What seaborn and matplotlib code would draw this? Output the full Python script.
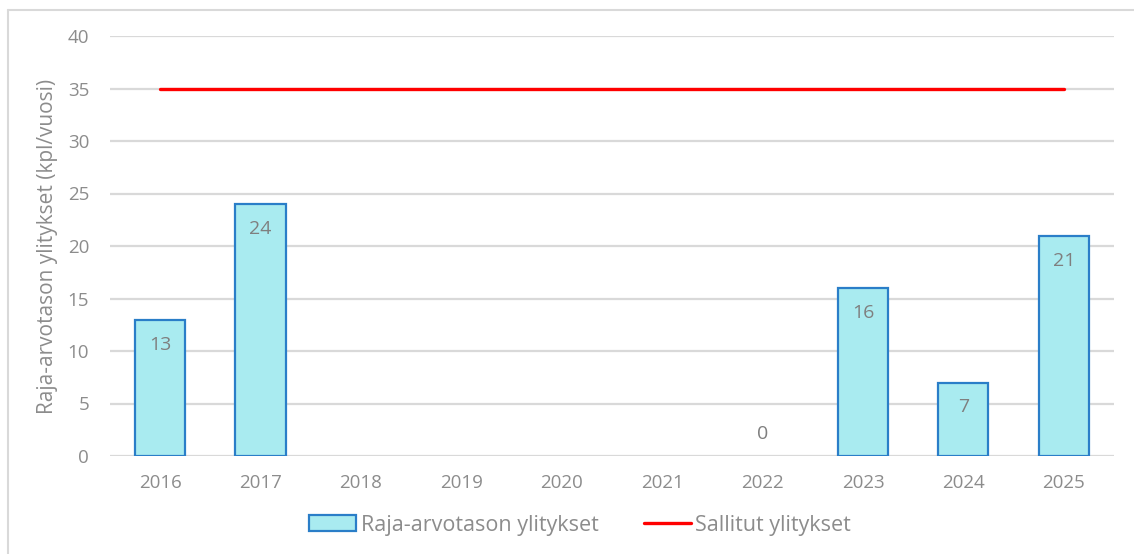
import matplotlib
matplotlib.use("Agg")
import matplotlib.pyplot as plt
from matplotlib.lines import Line2D
from matplotlib.patches import Patch
import numpy as np
import pandas as pd
import seaborn as sns

# data
years = ["2016", "2017", "2018", "2019", "2020", "2021", "2022", "2023", "2024", "2025"]
exceedances = [13, 24, np.nan, np.nan, np.nan, np.nan, 0, 16, 7, 21]
allowed = [35] * len(years)

bar_label = "Raja-arvotason ylitykset"
line_label = "Sallitut ylitykset"
ylabel = "Raja-arvotason ylitykset (kpl/vuosi)"

grey = "#8c8c8c"
fill = "#a9ebf0"
edge = "#2a7ec8"

sns.set_theme(style="white")
plt.rcParams["font.family"] = ["Open Sans", "DejaVu Sans"]

df = pd.DataFrame({"year": years, "value": exceedances})

fig = plt.figure(figsize=(11.34, 5.54), dpi=100)
ax = fig.add_axes([110 / 1134, 1 - 456 / 554, 1004 / 1134, 420 / 554])

sns.barplot(
    data=df.dropna(),
    x="year",
    y="value",
    order=years,
    color=fill,
    edgecolor=edge,
    linewidth=1.6,
    width=0.5,
    saturation=1,
    ax=ax,
)
# no outline for zero-height bars
for p in ax.patches:
    if p.get_height() == 0:
        p.set_linewidth(0)

sns.lineplot(x=np.arange(len(years)), y=allowed, color="#ff0000", linewidth=2.4, ax=ax)

# data labels
for i, v in enumerate(exceedances):
    if np.isnan(v):
        continue
    dy = -25 if v > 0 else 22
    ax.annotate(
        f"{v:.0f}",
        xy=(i, v),
        xytext=(0, dy * 0.72),
        textcoords="offset points",
        ha="center",
        va="center",
        fontsize=14,
        color="#7f7f7f",
    )

ax.set_xlim(-0.5, len(years) - 0.5)
ax.set_ylim(0, 40)
ax.set_yticks(range(0, 41, 5))
ax.yaxis.grid(True, color="#d9d9d9", linewidth=1.6)
ax.set_axisbelow(True)
sns.despine(ax=ax, left=True, bottom=True, top=True, right=True)
ax.tick_params(axis="both", labelsize=13.5, colors=grey, length=0)
ax.tick_params(axis="x", pad=13)
ax.tick_params(axis="y", pad=15)
ax.set_xlabel("")
ax.set_ylabel(ylabel, fontsize=15, color=grey)
ax.yaxis.set_label_coords(-52 / 1004, 0.5)

handles = [
    Patch(facecolor=fill, edgecolor=edge, linewidth=1.6),
    Line2D([0], [0], color="#ff0000", linewidth=2.4),
]
fig.legend(
    handles,
    [bar_label, line_label],
    loc="center",
    bbox_to_anchor=(580 / 1134, 1 - 525 / 554),
    ncol=2,
    frameon=False,
    fontsize=15.5,
    labelcolor=grey,
    handlelength=2.2,
    handletextpad=0.2,
    columnspacing=2.1,
)

# outer frame (only top and left visible in the reference)
fig.add_artist(Line2D([8 / 1134, 1], [1 - 10 / 554] * 2, color="#d9d9d9", linewidth=1.5))
fig.add_artist(Line2D([8 / 1134] * 2, [0, 1 - 10 / 554], color="#d9d9d9", linewidth=1.5))

fig.savefig("out.png", dpi=100)
